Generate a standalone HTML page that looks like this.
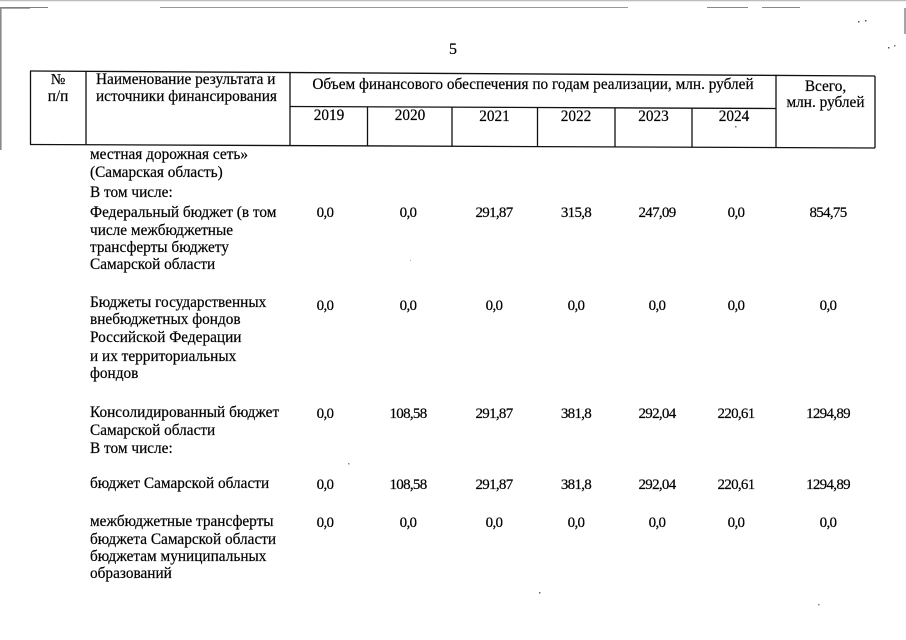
<!DOCTYPE html>
<html>
<head>
<meta charset="utf-8">
<style>
  html,body{margin:0;padding:0;background:#fff;}
  body{width:906px;height:640px;position:relative;overflow:hidden;
       font-family:"Liberation Serif","DejaVu Serif","Noto Serif CJK SC",serif;color:#000;}
  .t{position:absolute;white-space:nowrap;font-size:15.3px;line-height:18px;-webkit-text-stroke:0.2px #000;}
  .c{text-align:center;}
  .v{position:absolute;white-space:nowrap;font-size:15px;line-height:18px;width:80px;text-align:center;letter-spacing:-0.7px;-webkit-text-stroke:0.2px #000;}
  svg{position:absolute;left:0;top:0;}
</style>
</head>
<body>
<svg width="906" height="640" viewBox="0 0 906 640">
  <!-- scan border lines -->
  <line x1="0" y1="0.5" x2="906" y2="0.5" stroke="#bdbdbd" stroke-width="1.5"/>
  <line x1="0" y1="7.5" x2="48" y2="7.5" stroke="#808080" stroke-width="1"/>
  <line x1="0" y1="8.5" x2="30" y2="8.5" stroke="#aaa" stroke-width="1"/>
  <line x1="160" y1="7.5" x2="628" y2="7.5" stroke="#9a9a9a" stroke-width="1"/>
  <line x1="707" y1="7.5" x2="748" y2="7.5" stroke="#888" stroke-width="1"/>
  <line x1="762" y1="7.5" x2="800" y2="7.5" stroke="#888" stroke-width="1"/>
  <line x1="0.8" y1="7" x2="0.8" y2="150" stroke="#8a8a8a" stroke-width="1.6"/>
  <line x1="905" y1="8" x2="905" y2="34" stroke="#888" stroke-width="1.5"/>
  <!-- specks -->
  <rect x="858" y="21" width="1.5" height="1.5" fill="#555"/>
  <rect x="865" y="20" width="1.5" height="1.5" fill="#555"/>
  <rect x="888" y="47" width="1.5" height="1.5" fill="#555"/>
  <rect x="894" y="45" width="1.5" height="1.5" fill="#777"/>
  <rect x="735" y="126" width="1.5" height="1.5" fill="#777"/>
  <rect x="348" y="463" width="1.5" height="1.5" fill="#888"/>
  <rect x="539" y="592" width="1.5" height="1.5" fill="#666"/>
  <rect x="818" y="604" width="1.5" height="1.5" fill="#888"/>
  <rect x="410" y="260" width="1" height="1" fill="#aaa"/>
  <!-- table header -->
  <g stroke="#111" stroke-width="1.3" fill="none">
    <line x1="30" y1="71" x2="875" y2="76"/>
    <line x1="290" y1="106.5" x2="776" y2="108.5"/>
    <line x1="30" y1="144.5" x2="875" y2="148"/>
    <line x1="30.5" y1="71" x2="30.5" y2="144.5"/>
    <line x1="86" y1="71.3" x2="86" y2="144.8"/>
    <line x1="290" y1="72.5" x2="290" y2="146"/>
    <line x1="367.5" y1="107" x2="367.5" y2="146.3"/>
    <line x1="452" y1="107.3" x2="452" y2="146.7"/>
    <line x1="537.5" y1="107.7" x2="537.5" y2="147"/>
    <line x1="615" y1="108" x2="615" y2="147.3"/>
    <line x1="692" y1="108.2" x2="692" y2="147.6"/>
    <line x1="776" y1="74.6" x2="776" y2="147.8"/>
    <line x1="875" y1="76" x2="875" y2="148"/>
  </g>
</svg>

<div class="t c" style="left:433px;top:41px;width:40px;font-size:16px;">5</div>

<!-- header texts -->
<div class="t c" style="left:30px;top:71px;width:56px;">№</div>
<div class="t c" style="left:30px;top:88px;width:56px;">п/п</div>
<div class="t" style="left:96px;top:71px;">Наименование результата и</div>
<div class="t" style="left:96px;top:88px;">источники финансирования</div>
<div class="t c" style="left:290px;top:76px;width:486px;">Объем финансового обеспечения по годам реализации, млн. рублей</div>
<div class="t c" style="left:290px;top:107px;width:78px;">2019</div>
<div class="t c" style="left:368px;top:107px;width:84px;">2020</div>
<div class="t c" style="left:452px;top:108px;width:85px;">2021</div>
<div class="t c" style="left:537px;top:108px;width:78px;">2022</div>
<div class="t c" style="left:615px;top:108px;width:77px;">2023</div>
<div class="t c" style="left:692px;top:108px;width:84px;">2024</div>
<div class="t c" style="left:776px;top:78px;width:99px;">Всего,</div>
<div class="t c" style="left:776px;top:94px;width:99px;">млн. рублей</div>

<!-- left column body -->
<div class="t" style="left:90px;top:146px;">местная дорожная сеть»</div>
<div class="t" style="left:90px;top:164px;">(Самарская область)</div>
<div class="t" style="left:90px;top:184px;">В том числе:</div>
<div class="t" style="left:90px;top:204px;">Федеральный бюджет (в том</div>
<div class="t" style="left:90px;top:222px;">числе межбюджетные</div>
<div class="t" style="left:90px;top:239px;">трансферты бюджету</div>
<div class="t" style="left:90px;top:256px;">Самарской области</div>

<div class="t" style="left:90px;top:294px;">Бюджеты государственных</div>
<div class="t" style="left:90px;top:311px;">внебюджетных фондов</div>
<div class="t" style="left:90px;top:329px;">Российской Федерации</div>
<div class="t" style="left:90px;top:348px;">и их территориальных</div>
<div class="t" style="left:90px;top:365px;">фондов</div>

<div class="t" style="left:90px;top:404px;">Консолидированный бюджет</div>
<div class="t" style="left:90px;top:422px;">Самарской области</div>
<div class="t" style="left:90px;top:440px;">В том числе:</div>

<div class="t" style="left:90px;top:475px;">бюджет Самарской области</div>

<div class="t" style="left:90px;top:513px;">межбюджетные трансферты</div>
<div class="t" style="left:90px;top:531px;">бюджета Самарской области</div>
<div class="t" style="left:90px;top:548px;">бюджетам муниципальных</div>
<div class="t" style="left:90px;top:565px;">образований</div>

<!-- values row 1 -->
<div class="v" style="left:285px;top:204px;">0,0</div>
<div class="v" style="left:368px;top:204px;">0,0</div>
<div class="v" style="left:454px;top:204px;">291,87</div>
<div class="v" style="left:536px;top:204px;">315,8</div>
<div class="v" style="left:617px;top:204px;">247,09</div>
<div class="v" style="left:696px;top:204px;">0,0</div>
<div class="v" style="left:788px;top:204px;">854,75</div>

<!-- values row 2 -->
<div class="v" style="left:285px;top:297px;">0,0</div>
<div class="v" style="left:368px;top:297px;">0,0</div>
<div class="v" style="left:454px;top:297px;">0,0</div>
<div class="v" style="left:536px;top:297px;">0,0</div>
<div class="v" style="left:617px;top:297px;">0,0</div>
<div class="v" style="left:696px;top:297px;">0,0</div>
<div class="v" style="left:788px;top:297px;">0,0</div>

<!-- values row 3 -->
<div class="v" style="left:285px;top:405px;">0,0</div>
<div class="v" style="left:368px;top:405px;">108,58</div>
<div class="v" style="left:454px;top:405px;">291,87</div>
<div class="v" style="left:536px;top:405px;">381,8</div>
<div class="v" style="left:617px;top:405px;">292,04</div>
<div class="v" style="left:696px;top:405px;">220,61</div>
<div class="v" style="left:788px;top:405px;">1294,89</div>

<!-- values row 4 -->
<div class="v" style="left:285px;top:476px;">0,0</div>
<div class="v" style="left:368px;top:476px;">108,58</div>
<div class="v" style="left:454px;top:476px;">291,87</div>
<div class="v" style="left:536px;top:476px;">381,8</div>
<div class="v" style="left:617px;top:476px;">292,04</div>
<div class="v" style="left:696px;top:476px;">220,61</div>
<div class="v" style="left:788px;top:476px;">1294,89</div>

<!-- values row 5 -->
<div class="v" style="left:285px;top:514px;">0,0</div>
<div class="v" style="left:368px;top:514px;">0,0</div>
<div class="v" style="left:454px;top:514px;">0,0</div>
<div class="v" style="left:536px;top:514px;">0,0</div>
<div class="v" style="left:617px;top:514px;">0,0</div>
<div class="v" style="left:696px;top:514px;">0,0</div>
<div class="v" style="left:788px;top:514px;">0,0</div>
</body>
</html>
